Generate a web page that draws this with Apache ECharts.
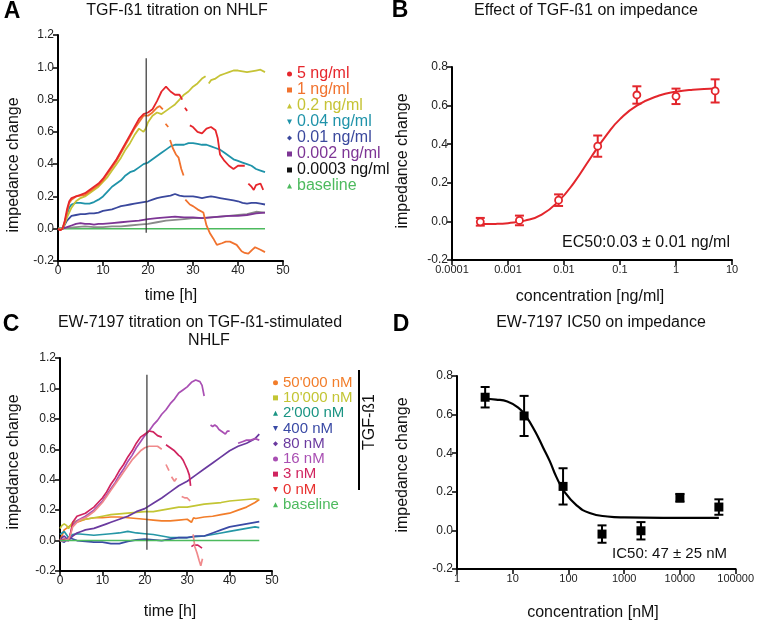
<!DOCTYPE html>
<html>
<head>
<meta charset="utf-8">
<script src="https://cdn.jsdelivr.net/npm/echarts@6/dist/echarts.min.js"></script>
<style>html,body{margin:0;padding:0;background:#fff}#c{width:757px;height:620px}</style>
</head>
<body>
<div id="c"></div>
<script>
// ---------- Panel A: TGF-ß1 titration (time [h], impedance change) ----------
const namesA = ['5 ng/ml','1 ng/ml','0.2 ng/ml','0.04 ng/ml','0.01 ng/ml','0.002 ng/ml','0.0003 ng/ml','baseline'];
const a5 = [[0,0],[0.5,-0.01],[1,0],[1.5,0.05],[2,0.12],[2.5,0.17],[3,0.19],[4,0.2],[5,0.21],[6,0.22],[7,0.24],[8,0.26],[9,0.28],[10,0.31],[11,0.35],[12,0.39],[13,0.43],[14,0.48],[15,0.53],[16,0.58],[17,0.63],[18,0.68],[19,0.71],[20,0.72],[21,0.74],[22,0.79],[23,0.85],[24,0.88],[25,0.85],[26,0.83],[27,0.83],[27.6,0.8],[27.9,'-'],[28.2,0.75],[28.7,0.73],[29,'-'],[29.3,0.64],[30,0.63],[31,0.6],[32,0.59],[33,0.62],[34,0.63],[35,0.61],[35.5,0.56],[36,0.46],[37,0.42],[38,0.39],[39,0.37],[40,0.39],[41,0.39],[41.5,0.39],[41.9,'-'],[42.3,0.28],[43,0.26],[43.5,0.24],[44,0.27],[45,0.28],[45.6,0.24]];
const a1 = [[0,0],[0.5,-0.01],[1,0],[1.5,0.04],[2,0.1],[2.5,0.16],[3,0.18],[4,0.2],[5,0.205],[6,0.21],[7,0.23],[8,0.25],[9,0.27],[10,0.3],[11,0.34],[12,0.38],[13,0.42],[14,0.47],[15,0.52],[16,0.57],[17,0.62],[18,0.66],[19,0.7],[20,0.7],[21,0.72],[22,0.75],[22.6,0.76],[23.3,0.74],[23.6,'-'],[23.9,0.65],[24.5,0.63],[24.7,'-'],[24.9,0.55],[25.5,0.5],[26.2,0.46],[26.8,0.44],[27.4,0.37],[27.9,0.33],[28.1,'-'],[28.3,0.18],[29.3,0.15],[30,0.14],[31,0.12],[32.3,0.1],[33,0.02],[33.8,-0.03],[34.5,-0.06],[35.3,-0.1],[36.4,-0.09],[37.3,-0.08],[38.2,-0.08],[39.7,-0.1],[40.8,-0.14],[41.5,-0.15],[42.3,-0.155],[43.2,-0.13],[43.8,-0.115],[45,-0.13],[46,-0.145]];
const a02 = [[0,0],[1,0],[1.5,0.03],[2,0.07],[3,0.13],[4,0.17],[5,0.19],[6,0.2],[7,0.22],[8,0.24],[9,0.26],[10,0.29],[11,0.32],[12,0.36],[13,0.4],[14,0.44],[15,0.49],[16,0.53],[17,0.58],[18,0.62],[19,0.6],[19.5,0.62],[20,0.66],[21,0.7],[22,0.72],[23,0.71],[24,0.73],[25,0.75],[26,0.77],[27,0.8],[28,0.83],[29,0.85],[30,0.88],[31,0.9],[32,0.93],[32.8,0.945],[33.1,'-'],[33.5,0.9],[34,0.92],[35,0.93],[36,0.95],[37,0.96],[38,0.97],[39,0.98],[40,0.98],[41,0.975],[42,0.97],[43,0.975],[44,0.98],[45,0.985],[46,0.97]];
const a004 = [[0,0],[1,0],[1.5,0.04],[2,0.09],[2.5,0.13],[3,0.15],[4,0.16],[5,0.16],[6,0.155],[7,0.155],[8,0.165],[9,0.18],[10,0.2],[11,0.23],[12,0.26],[13,0.28],[14,0.3],[15,0.33],[16,0.35],[17,0.36],[18,0.38],[19,0.4],[20,0.41],[21,0.43],[22,0.45],[23,0.47],[24,0.49],[25,0.51],[26,0.52],[27,0.52],[28,0.52],[29,0.53],[30,0.53],[31,0.525],[32,0.52],[33,0.52],[34,0.51],[35,0.5],[36,0.49],[37,0.47],[38,0.45],[39,0.43],[40,0.42],[41,0.41],[42,0.4],[43,0.39],[44,0.37],[45,0.36],[46,0.35]];
const a001 = [[0,0],[1,0],[2,0.05],[3,0.08],[4,0.085],[5,0.09],[6,0.09],[7,0.095],[8,0.095],[9,0.1],[10,0.11],[11,0.115],[12,0.12],[13,0.13],[14,0.14],[15,0.145],[16,0.15],[17,0.155],[18,0.16],[19,0.165],[20,0.17],[21,0.18],[22,0.19],[23,0.195],[24,0.2],[25,0.205],[26,0.215],[27,0.205],[28,0.2],[29,0.2],[30,0.2],[31,0.195],[32,0.19],[33,0.195],[34,0.2],[35,0.195],[36,0.19],[37,0.185],[38,0.18],[39,0.175],[40,0.17],[41,0.16],[42,0.155],[43,0.16],[44,0.16],[45,0.155],[46,0.15]];
const a0002 = [[0,0],[1,0],[2,0.01],[3,0.02],[4,0.03],[5,0.035],[6,0.03],[7,0.03],[8,0.025],[9,0.03],[10,0.03],[12,0.035],[14,0.04],[16,0.045],[18,0.05],[20,0.06],[22,0.065],[24,0.07],[26,0.075],[28,0.07],[30,0.07],[32,0.065],[34,0.07],[36,0.075],[38,0.08],[40,0.08],[42,0.085],[44,0.095],[46,0.1]];
const a00003 = [[0,0],[2,0.005],[4,0.01],[6,0.015],[8,0.01],[10,0.01],[12,0.015],[14,0.015],[16,0.02],[18,0.025],[20,0.03],[22,0.04],[24,0.05],[26,0.055],[28,0.06],[30,0.065],[32,0.065],[34,0.07],[36,0.075],[38,0.08],[40,0.085],[42,0.09],[44,0.105],[46,0.1]];
const aBase = [[0,0],[46,0]];
const switchA = [[19.6,-0.025],[19.6,1.056]];

// ---------- Panel B: EC50 of TGF-ß1 ----------
const concB = [0.00032,0.0016,0.008,0.04,0.2,1,5];
const meanB = [-0.002,0.005,0.11,0.39,0.655,0.648,0.676];
const errB  = [0.02,0.025,0.03,0.055,0.045,0.04,0.06];
const fitB  = [[0.0003,-0.014],[0.0006,-0.013],[0.001,-0.009],[0.002,0.004],[0.004,0.035],[0.008,0.105],[0.015,0.2],[0.03,0.33],[0.06,0.455],[0.1,0.53],[0.2,0.6],[0.5,0.652],[1,0.672],[2,0.682],[5,0.688]];

// ---------- Panel C: EW-7197 titration ----------
const namesC = ["50'000 nM","10'000 nM","2'000 nM","400 nM","80 nM","16 nM","3 nM","0 nM","baseline"];
const c50000 = [[0,0],[1,0.07],[2,0.09],[3,0.11],[4,0.12],[5,0.13],[6,0.14],[8,0.15],[10,0.15],[12,0.155],[14,0.155],[16,0.15],[18,0.145],[20,0.14],[22,0.135],[24,0.13],[26,0.13],[28,0.135],[30,0.14],[31,0.12],[31.5,0.15],[32,0.145],[34,0.155],[36,0.16],[38,0.17],[40,0.18],[42,0.2],[44,0.22],[46,0.25],[47,0.27]];
const c10000 = [[0,0.08],[0.5,0.1],[1,0.11],[1.5,0.1],[2,0.08],[2.5,0.1],[3,0.12],[4,0.13],[6,0.14],[8,0.15],[10,0.16],[12,0.17],[14,0.175],[16,0.18],[18,0.185],[20,0.19],[22,0.19],[24,0.2],[26,0.21],[28,0.22],[30,0.22],[32,0.23],[34,0.24],[36,0.245],[38,0.25],[40,0.26],[42,0.265],[44,0.27],[46,0.275],[47,0.27]];
const c2000 = [[0,0.04],[1,0.06],[2,0.02],[3,0.04],[4,0.045],[6,0.04],[8,0.035],[10,0.04],[12,0.045],[14,0.05],[16,0.06],[18,0.05],[20,0.045],[22,0.04],[24,0.03],[26,0.02],[28,0.02],[30,0.02],[32,0.025],[34,0.03],[36,0.04],[38,0.05],[40,0.06],[42,0.07],[44,0.08],[46,0.09],[47,0.085]];
const c400 = [[0,0],[1,-0.01],[2,0.02],[3,0.01],[4,0],[6,-0.005],[8,-0.01],[10,-0.01],[12,-0.02],[14,-0.02],[16,-0.005],[18,0.005],[20,0.01],[22,0.005],[24,0],[26,0.01],[28,0.02],[30,0.02],[32,0.03],[34,0.03],[36,0.05],[38,0.07],[40,0.09],[42,0.1],[44,0.11],[46,0.12],[47,0.125]];
const c80 = [[0,0],[0.5,0.02],[1,0.03],[2,0],[3,0.03],[4,0.05],[5,0.06],[6,0.07],[7,0.075],[8,0.08],[9,0.09],[10,0.1],[11,0.11],[12,0.12],[13,0.13],[14,0.14],[15,0.15],[16,0.16],[17,0.175],[18,0.19],[19,0.2],[20,0.21],[22,0.245],[24,0.28],[26,0.32],[28,0.36],[30,0.39],[32,0.43],[34,0.47],[36,0.51],[38,0.55],[40,0.59],[42,0.62],[44,0.64],[46,0.67],[47,0.7]];
const c16 = [[0,0],[1,0],[2,0],[2.5,0.05],[3,0.1],[4,0.13],[5,0.145],[6,0.16],[7,0.18],[8,0.2],[9,0.23],[10,0.26],[11,0.3],[12,0.34],[13,0.38],[14,0.43],[15,0.47],[16,0.52],[17,0.56],[18,0.61],[19,0.65],[20,0.69],[21,0.72],[22,0.76],[23,0.79],[24,0.83],[25,0.86],[26,0.9],[27,0.93],[28,0.97],[29,0.99],[30,1.01],[31,1.04],[32,1.055],[33,1.045],[33.5,1.02],[34,0.95],[34.7,'-'],[35.5,0.76],[36,0.75],[36.5,0.76],[37,0.75],[37.5,0.73],[38,0.72],[38.5,0.71],[39,0.7],[39.5,0.72],[40,0.72],[41,'-'],[42,0.64],[43,0.65],[44,0.66],[45,0.66],[46,0.67],[47,0.66]];
const c3 = [[0,0],[1,0.01],[2,0],[2.5,0.05],[3,0.12],[4,0.16],[5,0.17],[6,0.18],[7,0.2],[8,0.22],[9,0.25],[10,0.28],[11,0.32],[12,0.37],[13,0.41],[14,0.46],[15,0.5],[16,0.55],[17,0.59],[18,0.64],[19,0.68],[20,0.7],[21,0.72],[22,0.715],[23,0.69],[24,0.68],[24.5,'-'],[25,0.63],[25.5,0.62],[26,0.61],[27,0.59],[28,0.56],[28.5,0.55],[29,0.53],[29.5,0.5],[30,0.47],[30.5,0.43],[30.8,0.36],[30.9,'-'],[31,-0.04],[31.5,-0.03],[32,-0.03],[32.5,-0.03],[33,-0.04],[33.5,-0.05]];
const c0 = [[0,0],[1,0],[2,0.01],[2.5,0.04],[3,0.09],[4,0.12],[5,0.14],[6,0.15],[7,0.17],[8,0.19],[9,0.22],[10,0.25],[11,0.29],[12,0.33],[13,0.37],[14,0.41],[15,0.45],[16,0.49],[17,0.53],[18,0.56],[19,0.59],[20,0.61],[21,0.62],[22,0.62],[23,0.62],[24,0.6],[24.5,'-'],[25,0.5],[25.7,0.46],[26,'-'],[26.3,0.42],[27,0.39],[27.5,0.41],[28,'-'],[28.7,0.29],[29.5,0.28],[30,0.28],[30.7,0.26],[31,'-'],[31.4,0.04],[31.8,-0.04],[32.3,-0.08],[32.8,-0.13],[33.2,-0.165],[33.6,-0.12]];
const cBase = [[0,0],[47,0]];
const switchC = [[20.5,-0.06],[20.5,1.09]];

// ---------- Panel D: IC50 of EW-7197 ----------
const concD = [3.2,16,80,400,2000,10000,50000];
const meanD = [0.69,0.593,0.228,-0.019,-0.002,0.169,0.121];
const errD  = [0.053,0.104,0.094,0.045,0.045,0.02,0.04];
const fitD  = [[3,0.682],[5,0.678],[8,0.668],[13,0.632],[17,0.595],[25,0.515],[35,0.43],[46,0.36],[60,0.28],[85,0.2],[140,0.13],[240,0.09],[500,0.072],[1000,0.067],[5000,0.065],[50000,0.065]];

const colorsA = ['#e6262c','#f1722e','#c6c336','#1f93a9','#3a489d','#7d3595','#8a8a8a','#4dba5e'];
const legendColorsA = ['#e6262c','#f1722e','#c6c336','#1f93a9','#3a489d','#7d3595','#111111','#4dba5e'];
const iconsA = ['circle','rect','triangle','path://M0,0L10,0L5,10Z','diamond','rect','rect','triangle'];
const colorsC = ['#f27d2a','#c3c534','#2597a6','#3a4aa5','#6a3a9f','#a94fb3','#d0245f','#f08a8c','#4dba5e'];
const legendColorsC = ['#f27d2a','#c3c534','#1a9483','#3a4aa5','#6a3a9f','#a94fb3','#d0245f','#e8312f','#4dba5e'];
const iconsC = ['circle','rect','triangle','path://M0,0L10,0L5,10Z','diamond','circle','rect','path://M0,0L10,0L5,10Z','triangle'];

const FONT = '"Liberation Sans", Arial, sans-serif';
const seriesA = [a5,a1,a02,a004,a001,a0002,a00003,aBase];
const seriesC = [c50000,c10000,c2000,c400,c80,c16,c3,c0,cBase];

function lin(v){ return Math.abs(v)<1e-9 ? '0.0' : v.toFixed(1); }
function logLab(v){ const e=Math.round(Math.log10(v)); return e<0 ? Math.pow(10,e).toFixed(-e) : String(Math.round(Math.pow(10,e))); }
const axisCommon = {
  axisLine:{show:true,onZero:false,lineStyle:{color:'#000',width:2}},
  axisTick:{show:true,length:5,lineStyle:{color:'#000',width:1.5}},
  axisLabel:{color:'#222',fontSize:12,fontFamily:FONT,margin:4},
  splitLine:{show:false}
};
function ax(extra){ return Object.assign({}, JSON.parse(JSON.stringify(axisCommon)), extra); }

const grids = [
  {left:58,top:35,width:225,height:226},
  {left:452,top:67,width:280,height:193},
  {left:60,top:358,width:212,height:213},
  {left:457,top:376,width:280,height:193}
];

const labLin = {color:'#222',fontSize:12,fontFamily:FONT,margin:4,formatter:lin};
const labLog = {color:'#222',fontSize:11,fontFamily:FONT,margin:4,formatter:logLab};
const xAxes = [
  ax({gridIndex:0,type:'value',min:0,max:50,interval:10}),
  ax({gridIndex:1,type:'log',min:0.0001,max:10,logBase:10,splitNumber:5,axisLabel:labLog,minorTick:{show:false}}),
  ax({gridIndex:2,type:'value',min:0,max:50,interval:10}),
  ax({gridIndex:3,type:'log',min:1,max:100000,logBase:10,splitNumber:5,axisLabel:labLog,minorTick:{show:false}})
];
const yAxes = [
  ax({gridIndex:0,type:'value',min:-0.2,max:1.2,interval:0.2,axisLabel:labLin}),
  ax({gridIndex:1,type:'value',min:-0.2,max:0.8,interval:0.2,axisLabel:labLin}),
  ax({gridIndex:2,type:'value',min:-0.2,max:1.2,interval:0.2,axisLabel:labLin}),
  ax({gridIndex:3,type:'value',min:-0.2,max:0.8,interval:0.2,axisLabel:labLin})
];

const series = [];
seriesA.forEach((d,i)=>{
  series.push({name:namesA[i],type:'line',xAxisIndex:0,yAxisIndex:0,data:d,showSymbol:false,connectNulls:false,
    lineStyle:{color:colorsA[i],width:i===7?1.4:1.8},itemStyle:{color:colorsA[i]},z:10-i,animation:false});
});
series.push({type:'line',xAxisIndex:0,yAxisIndex:0,data:switchA,showSymbol:false,lineStyle:{color:'#333',width:1.2},z:20,animation:false,silent:true});
seriesC.forEach((d,i)=>{
  series.push({name:namesC[i],type:'line',xAxisIndex:2,yAxisIndex:2,data:d,showSymbol:false,connectNulls:false,
    lineStyle:{color:colorsC[i],width:i===8?1.4:1.7},itemStyle:{color:colorsC[i]},z:10,animation:false});
});
series.push({type:'line',xAxisIndex:2,yAxisIndex:2,data:switchC,showSymbol:false,lineStyle:{color:'#333',width:1.2},z:20,animation:false,silent:true});

function errSeries(xi,yi,conc,mean,err,color,lw){
  return {type:'custom',xAxisIndex:xi,yAxisIndex:yi,animation:false,z:5,
    data:conc.map((c,i)=>[c,mean[i],err[i]]),
    renderItem:function(p,api){
      const x=api.value(0),y=api.value(1),e=api.value(2);
      const t=api.coord([x,y+e]), b=api.coord([x,y-e]); const w=4.5;
      const st={stroke:color,lineWidth:lw};
      return {type:'group',children:[
        {type:'line',shape:{x1:t[0],y1:t[1],x2:b[0],y2:b[1]},style:st},
        {type:'line',shape:{x1:t[0]-w,y1:t[1],x2:t[0]+w,y2:t[1]},style:st},
        {type:'line',shape:{x1:b[0]-w,y1:b[1],x2:b[0]+w,y2:b[1]},style:st}
      ]};
    }};
}
// Panel B
series.push({type:'line',xAxisIndex:1,yAxisIndex:1,data:fitB,showSymbol:false,smooth:0.5,lineStyle:{color:'#e3262c',width:2},z:4,animation:false});
series.push(errSeries(1,1,concB,meanB,errB,'#e3262c',2));
series.push({type:'scatter',xAxisIndex:1,yAxisIndex:1,data:concB.map((c,i)=>[c,meanB[i]]),symbol:'circle',symbolSize:7,
  itemStyle:{color:'#fff',borderColor:'#e3262c',borderWidth:1.8,opacity:1},z:8,animation:false});
// Panel D
series.push({type:'line',xAxisIndex:3,yAxisIndex:3,data:fitD,showSymbol:false,smooth:0.5,lineStyle:{color:'#000',width:2.2},z:4,animation:false});
series.push(errSeries(3,3,concD,meanD,errD,'#000',2));
series.push({type:'scatter',xAxisIndex:3,yAxisIndex:3,data:concD.map((c,i)=>[c,meanD[i]]),symbol:'rect',symbolSize:9,
  itemStyle:{color:'#000',opacity:1},z:8,animation:false});

const legends = [
  {orient:'vertical',left:282,top:61,itemWidth:5,itemHeight:5,itemGap:0,selectedMode:false,
   textStyle:{fontSize:16,lineHeight:15.7,fontFamily:FONT},
   data:namesA.map((n,i)=>({name:n,icon:iconsA[i],itemStyle:{color:legendColorsA[i]},textStyle:{color:legendColorsA[i]}}))},
  {orient:'vertical',left:268,top:370,itemWidth:5,itemHeight:5,itemGap:0,selectedMode:false,
   textStyle:{fontSize:15,lineHeight:15.25,fontFamily:FONT},
   data:namesC.map((n,i)=>({name:n,icon:iconsC[i],itemStyle:{color:legendColorsC[i]},textStyle:{color:legendColorsC[i]}}))}
];

function txt(t,x,y,size,opts){
  opts=opts||{};
  return {type:'text',x:x,y:y,rotation:opts.rot||0,z:100,silent:true,
    style:{text:t,font:(opts.bold?'bold ':'')+size+'px '+FONT,fill:opts.color||'#111',textAlign:opts.align||'center',textVerticalAlign:'middle'}};
}
const graphics = [
  txt('A',12,12,23,{bold:true,color:'#000'}),
  txt('B',400,11,23,{bold:true,color:'#000'}),
  txt('C',11,325,23,{bold:true,color:'#000'}),
  txt('D',401,325,23,{bold:true,color:'#000'}),
  txt('TGF-ß1 titration on NHLF',177,11,16),
  txt('Effect of TGF-ß1 on impedance',586,11,16),
  txt('EW-7197 titration on TGF-ß1-stimulated',200,323,16),
  txt('NHLF',209,341,16),
  txt('EW-7197 IC50 on impedance',601,323,16),
  txt('impedance change',14,165,16,{rot:Math.PI/2}),
  txt('impedance change',403,161,16,{rot:Math.PI/2}),
  txt('impedance change',14,462,16,{rot:Math.PI/2}),
  txt('impedance change',403,465,16,{rot:Math.PI/2}),
  txt('time [h]',171,296,16),
  txt('concentration [ng/ml]',590,297,16),
  txt('time [h]',170,612,16),
  txt('concentration [nM]',593,613,16),
  txt('EC50:0.03 ± 0.01 ng/ml',730,243,16,{align:'right'}),
  txt('IC50: 47 ± 25 nM',727,554,15,{align:'right'}),
  txt('TGF-ß1',370,422,16,{rot:Math.PI/2}),
  {type:'line',silent:true,z:100,shape:{x1:359,y1:370,x2:359,y2:490},style:{stroke:'#000',lineWidth:2}}
];

const chart = echarts.init(document.getElementById('c'),null,{renderer:'canvas'});
chart.setOption({
  animation:false,
  backgroundColor:'#fff',
  grid:grids, xAxis:xAxes, yAxis:yAxes, series:series, legend:legends, graphic:graphics
});
</script>
</body>
</html>
